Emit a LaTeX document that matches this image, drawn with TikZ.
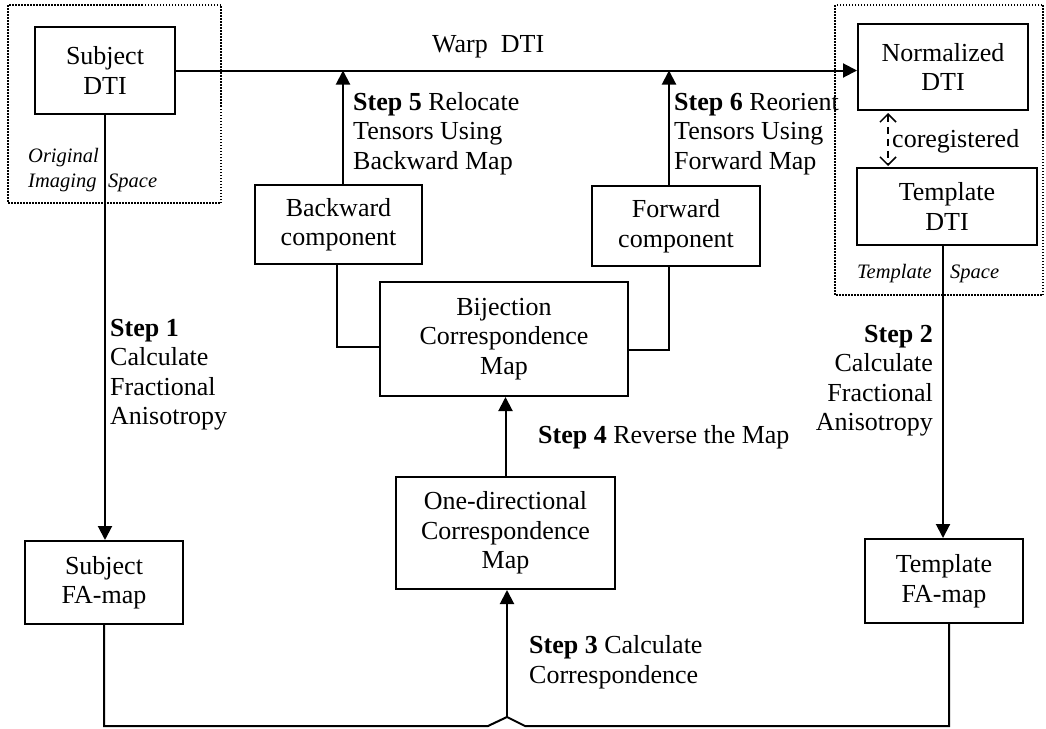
\documentclass[tikz,border=0pt]{standalone}
\usepackage{fontspec}
\setmainfont{Liberation Serif}
\usetikzlibrary{arrows.meta,calc}
\tikzset{
  base/.style={font=\fontsize{26}{29.5}\selectfont},
  box/.style={base, draw, line width=2pt, inner sep=0pt, align=center, anchor=center},
  lbl/.style={base, inner sep=0pt, align=left, anchor=base west},
  ital/.style={font=\fontsize{20.5}{24}\selectfont\itshape, inner sep=0pt, anchor=base west},
  conn/.style={line width=2pt},
  arr/.style={line width=2pt, -{Triangle[length=14pt,width=14pt]}},
  dotbox/.style={line width=1.5pt, dash pattern=on 1.5pt off 1.5pt},
  coreg/.style={line width=1.5pt, dash pattern=on 7pt off 5pt, {Straight Barb[length=8pt,width=16pt]}-{Straight Barb[length=8pt,width=16pt]}}
}
\begin{document}
\begin{tikzpicture}[x=1pt,y=-1pt]
\useasboundingbox (0,0) rectangle (1046,728);
% dotted regions
\draw[dotbox] (8,5) rectangle (221,203);
\draw[dotbox] (835,5) rectangle (1043,295);
% boxes
\node[box, minimum width=140pt, minimum height=87pt] (sdti) at (105,70.5) {Subject\\DTI};
\node[box, minimum width=170pt, minimum height=86pt] (ndti) at (943,67) {Normalized\\DTI};
\node[box, minimum width=180pt, minimum height=77pt] (tdti) at (947,206.5) {Template\\DTI};
\node[box, minimum width=167pt, minimum height=79pt] (bwd) at (338.5,224.5) {Backward\\component};
\node[box, minimum width=168pt, minimum height=80pt] (fwd) at (676,226) {Forward\\component};
\node[box, minimum width=248pt, minimum height=114pt] (bij) at (504,339) {Bijection\\Correspondence\\Map};
\node[box, minimum width=219pt, minimum height=112pt] (one) at (505.5,533) {One-directional\\Correspondence\\Map};
\node[box, minimum width=158pt, minimum height=83pt] (sfa) at (104,582.5) {Subject\\FA-map};
\node[box, minimum width=158pt, minimum height=84pt] (tfa) at (944,581) {Template\\FA-map};
% warp line
\draw[arr] (sdti.east) -- (sdti.east -| ndti.west);
\node[lbl] (warp) at (432,52) {Warp~~DTI};
% step 5 / 6 arrows
\draw[arr] ([xshift=4.5pt]bwd.north) -- ([xshift=4.5pt]bwd.north |- sdti.east);
\draw[arr] ([xshift=-7pt]fwd.north) -- ([xshift=-7pt]fwd.north |- sdti.east);
\node[lbl] (s5) at (353,169) {\textbf{Step 5} Relocate\\Tensors Using\\Backward Map};
\node[lbl] (s6) at (674,169) {\textbf{Step 6} Reorient\\Tensors Using\\Forward Map};
% components to bijection
\draw[conn] ([xshift=-1.5pt]bwd.south) |- ([yshift=-8pt]bij.west);
\draw[conn] ([xshift=-7pt]fwd.south) |- ([yshift=-11pt]bij.east);
% step 4
\draw[arr] (one.north) -- (one.north |- bij.south);
\node[lbl] (s4) at (538,443) {\textbf{Step 4} Reverse the Map};
% coregistered
\draw[coreg] (888,113) -- (888,166);
\node[lbl] (co) at (892,147) {coregistered};
% step 1
\draw[arr] (sdti.south) -- (sdti.south |- sfa.north);
\node[lbl] (s1) at (110,424.5) {\textbf{Step 1}\\Calculate\\Fractional\\Anisotropy};
% step 2
\draw[arr] ([xshift=-4pt]tdti.south) -- ([xshift=-4pt]tdti.south |- tfa.north);
\node[lbl, align=right, anchor=base east] (s2) at (933,430.5) {\textbf{Step 2}\\Calculate\\Fractional\\Anisotropy};
% space labels
\node[ital] (orig) at (28,162) {Original};
\node[ital] (imag) at (28,187) {Imaging};
\node[ital] (spc1) at (108,187) {Space};
\node[ital] (tmpl) at (857,278) {Template};
\node[ital] (spc2) at (950,278) {Space};
% bottom connector
\coordinate (peak) at (507,717);
\draw[conn] (sfa.south) -- (sfa.south |- 0,726) -- (488,726) -- (peak) -- (525,726) -- ([xshift=5pt]tfa.south |- 0,726) -- ([xshift=5pt]tfa.south);
\draw[arr] (peak) -- (peak |- one.south);
\node[lbl] (s3) at (529,683) {\textbf{Step 3} Calculate\\Correspondence};
\end{tikzpicture}
\end{document}
